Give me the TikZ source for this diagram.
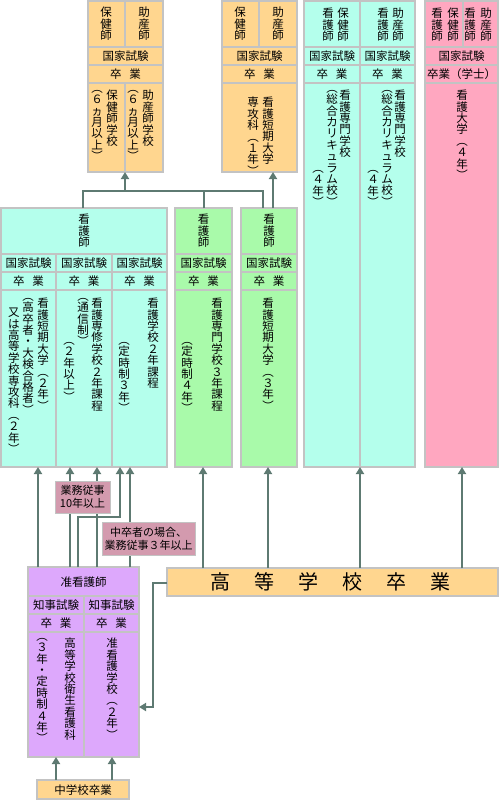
\documentclass[tikz,border=0pt]{standalone}
\usepackage{fontspec}
\setmainfont{Noto Sans CJK JP}
\usetikzlibrary{arrows.meta}
\ExplSyntaxOn
\NewDocumentCommand\vs{m}{\vbox{\dim_set:Nn\baselineskip{11.4pt}\dim_set:Nn\lineskiplimit{-100pt}\dim_set:Nn\lineskip{0pt}\tl_map_inline:nn{#1}{\hbox~to~1em{\hss##1\hss}}}}
\ExplSyntaxOff
\definecolor{or}{HTML}{FFD68F}
\definecolor{cy}{HTML}{B4FFEC}
\definecolor{gr}{HTML}{A9FAAA}
\definecolor{pk}{HTML}{FFA7C0}
\definecolor{pu}{HTML}{DDA8FC}
\definecolor{lb}{HTML}{D39AAE}
\definecolor{bd}{HTML}{C3C3C3}
\definecolor{ar}{HTML}{5E7A72}
\tikzset{
 bx/.style={draw=bd, line width=2pt, inner sep=0pt, outer sep=0pt},
 dv/.style={draw=bd, line width=2pt},
 tx/.style={inner sep=0pt, font=\fontsize{11.5}{13}\selectfont},
 vt/.style={inner sep=0pt, anchor=north, font=\fontsize{11.5}{11.4}\selectfont},
 ln/.style={draw=ar, line width=2pt},
 arr/.style={ln, -{Triangle[width=8pt,length=7pt]}},
 lbl/.style={draw=bd, line width=1pt, fill=lb, inner sep=0pt, align=center, font=\fontsize{11}{13}\selectfont},
}
\begin{document}
\begin{tikzpicture}[x=1pt,y=-1pt]
\useasboundingbox (0,0) rectangle (500,800);
% ---------- boxes ----------
\node[bx, fill=or, minimum width=75, minimum height=171] (A) at (125.5,86.5) {};
\node[bx, fill=or, minimum width=75, minimum height=171] (B) at (259.5,86.5) {};
\node[bx, fill=cy, minimum width=111, minimum height=466] (C) at (359.5,234) {};
\node[bx, fill=pk, minimum width=73, minimum height=466] (D) at (461.5,234) {};
\node[bx, fill=cy, minimum width=166, minimum height=259] (E) at (84,337.5) {};
\node[bx, fill=gr, minimum width=57, minimum height=259] (F) at (203.5,337.5) {};
\node[bx, fill=gr, minimum width=56, minimum height=259] (G) at (269,337.5) {};
\node[bx, fill=pu, minimum width=111, minimum height=190] (H) at (83.5,662) {};
\node[bx, fill=or, minimum width=92, minimum height=19] (I) at (83,789.5) {};
\node[bx, fill=or, minimum width=331, minimum height=28] (J) at (332.5,582) {};
% ---------- dividers ----------
\foreach \y in {47,65,83}{
 \draw[dv] (88,\y) -- (163,\y);
 \draw[dv] (222,\y) -- (297,\y);
 \draw[dv] (304,\y) -- (415,\y);
 \draw[dv] (425,\y) -- (498,\y);}
\draw[dv] (125,1) -- (125,47) (125,83) -- (125,172);
\draw[dv] (259,1) -- (259,47);
\draw[dv] (360,1) -- (360,467);
\draw[dv] (463,1) -- (463,47);
\foreach \y in {254,272,290}{
 \draw[dv] (1,\y) -- (167,\y);
 \draw[dv] (175,\y) -- (232,\y);
 \draw[dv] (241,\y) -- (297,\y);}
\draw[dv] (56,254) -- (56,467) (112,254) -- (112,467);
\foreach \y in {596,614,632}{\draw[dv] (28,\y) -- (139,\y);}
\draw[dv] (84,596) -- (84,757);
% ---------- texts: A ----------
\node[vt] (a1) at (106,7) {\vs{保健師}};
\node[vt] (a2) at (144,7) {\vs{助産師}};
\node[tx] (a3) at (125.5,56) {国家試験};
\node[tx] (a4) at (125.5,74) {卒\hspace{8pt}業};
\node[vt] (a5) at (112,90) {\vs{保健師学校}};
\node[vt] (a6) at (97,90) {\vs{︵６ヵ月以上︶}};
\node[vt] (a7) at (148,90) {\vs{助産師学校}};
\node[vt] (a8) at (133,90) {\vs{︵６ヵ月以上︶}};
% B
\node[vt] (b1) at (240,7) {\vs{保健師}};
\node[vt] (b2) at (278,7) {\vs{助産師}};
\node[tx] (b3) at (259.5,56) {国家試験};
\node[tx] (b4) at (259.5,74) {卒\hspace{8pt}業};
\node[vt] (b5) at (268,97) {\vs{看護短期大学}};
\node[vt] (b6) at (253,97) {\vs{専攻科︵１年︶}};
% C
\node[vt] (c1) at (328,8) {\vs{看護師}};
\node[vt] (c2) at (343,8) {\vs{保健師}};
\node[vt] (c3) at (383,8) {\vs{看護師}};
\node[vt] (c4) at (398,8) {\vs{助産師}};
\node[tx] (c5) at (332,56) {国家試験};
\node[tx] (c6) at (387.5,56) {国家試験};
\node[tx] (c7) at (332,74) {卒\hspace{8pt}業};
\node[tx] (c8) at (387.5,74) {卒\hspace{8pt}業};
\node[vt] (c9) at (345,90) {\vs{看護専門学校}};
\node[vt] (c10) at (332,90) {\vs{︵総合カリキュラム校︶}};
\node[vt] (c11) at (318,170) {\vs{︵４年︶}};
\node[vt] (c12) at (400,90) {\vs{看護専門学校}};
\node[vt] (c13) at (387,90) {\vs{︵総合カリキュラム校︶}};
\node[vt] (c14) at (373,170) {\vs{︵４年︶}};
% D
\node[vt] (d1) at (437,8) {\vs{看護師}};
\node[vt] (d2) at (453,8) {\vs{保健師}};
\node[vt] (d3) at (470,8) {\vs{看護師}};
\node[vt] (d4) at (486,8) {\vs{助産師}};
\node[tx] (d5) at (461.5,56) {国家試験};
\node[tx] (d6) at (461.5,74) {卒業（学士）};
\node[vt] (d7) at (462,90) {\vs{看護大学︵４年︶}};
% E
\node[vt] (e1) at (84,214) {\vs{看護師}};
\node[tx] (e2) at (28.5,263) {国家試験};
\node[tx] (e3) at (84,263) {国家試験};
\node[tx] (e4) at (139.5,263) {国家試験};
\node[tx] (e5) at (28.5,281) {卒\hspace{8pt}業};
\node[tx] (e6) at (84,281) {卒\hspace{8pt}業};
\node[tx] (e7) at (139.5,281) {卒\hspace{8pt}業};
\node[vt] (e8) at (43,298) {\vs{看護短期大学︵２年︶}};
\node[vt] (e9) at (28,298) {\vs{︵高卒者・大検合格者︶}};
\node[vt] (e10) at (14,308) {\vs{又は高等学校専攻科︵２年︶}};
\node[vt] (e11) at (97,298) {\vs{看護専修学校２年課程}};
\node[vt] (e12) at (83,298) {\vs{︵通信制︶}};
\node[vt] (e13) at (69,342) {\vs{︵２年以上︶}};
\node[vt] (e14) at (153,298) {\vs{看護学校２年課程}};
\node[vt] (e15) at (124,342) {\vs{︵定時制３年︶}};
% F
\node[vt] (f1) at (203.5,214) {\vs{看護師}};
\node[tx] (f2) at (203.5,263) {国家試験};
\node[tx] (f3) at (203.5,281) {卒\hspace{8pt}業};
\node[vt] (f4) at (217,298) {\vs{看護専門学校３年課程}};
\node[vt] (f5) at (187,342) {\vs{︵定時制４年︶}};
% G
\node[vt] (g1) at (269,214) {\vs{看護師}};
\node[tx] (g2) at (269,263) {国家試験};
\node[tx] (g3) at (269,281) {卒\hspace{8pt}業};
\node[vt] (g4) at (268,298) {\vs{看護短期大学︵３年︶}};
% H
\node[tx] (h1) at (83.5,582) {准看護師};
\node[tx] (h2) at (56,605) {知事試験};
\node[tx] (h3) at (111.5,605) {知事試験};
\node[tx] (h4) at (56,623) {卒\hspace{8pt}業};
\node[tx] (h5) at (111.5,623) {卒\hspace{8pt}業};
\node[vt] (h6) at (70,638) {\vs{高等学校衛生看護科}};
\node[vt] (h7) at (42,638) {\vs{︵３年・定時制４年︶}};
\node[vt] (h8) at (112,638) {\vs{准看護学校︵２年︶}};
% I, J
\node[tx] (i1) at (83,790) {中学校卒業};
\node[tx, font=\fontsize{20}{24}\selectfont] (j1) at (330,582) {高\hspace{24pt}等\hspace{24pt}学\hspace{24pt}校\hspace{24pt}卒\hspace{24pt}業};
% ---------- connectors ----------
\coordinate (k0) at (125,191);
\coordinate (k1) at (83,191);
\coordinate (k2) at (204,191);
\coordinate (k3) at (263,191);
\coordinate (k4) at (273,191);
\draw[ln] (k1 |- E.north) -- (k1) -- (k3) -- (k3 |- G.north);
\draw[ln] (k2 |- F.north) -- (k2);
\draw[arr] (k0) -- (k0 |- A.south);
\draw[arr] (k4 |- G.north) -- (k4 |- B.south);
\coordinate (p1) at (203,500);
\coordinate (p2) at (268,500);
\coordinate (p3) at (360,500);
\coordinate (p4) at (462,500);
\draw[arr] (p1 |- J.north) -- (p1 |- F.south);
\draw[arr] (p2 |- J.north) -- (p2 |- G.south);
\draw[arr] (p3 |- J.north) -- (p3 |- C.south);
\draw[arr] (p4 |- J.north) -- (p4 |- D.south);
\coordinate (r1) at (153,583);
\coordinate (r2) at (153,707);
\draw[arr] (r1 -| J.west) -- (r1) -- (r2) -- (r2 -| H.east);
\coordinate (m1) at (56,770);
\coordinate (m2) at (112,770);
\draw[arr] (m1 |- I.north) -- (m1 |- H.south);
\draw[arr] (m2 |- I.north) -- (m2 |- H.south);
\coordinate (n1) at (38,520);
\coordinate (n2) at (70,520);
\coordinate (n3) at (97,520);
\coordinate (n4) at (130,520);
\draw[arr] (n1 |- H.north) -- (n1 |- E.south);
\draw[arr] (n2 |- H.north) -- (n2 |- E.south);
\draw[arr] (n3 |- H.north) -- (n3 |- E.south);
\draw[arr] (n4 |- H.north) -- (n4 |- E.south);
\coordinate (q1) at (78,517);
\coordinate (q2) at (120,517);
\draw[arr] (q1 |- H.north) -- (q1) -- (q2) -- (q2 |- E.south);
% ---------- labels ----------
\node[lbl, minimum width=55, minimum height=32] (L1) at (82.5,497) {業務従事\\10年以上};
\node[lbl, minimum width=93, minimum height=33] (L2) at (148.5,538.5) {中卒者の場合、\\業務従事３年以上};
\end{tikzpicture}
\end{document}
